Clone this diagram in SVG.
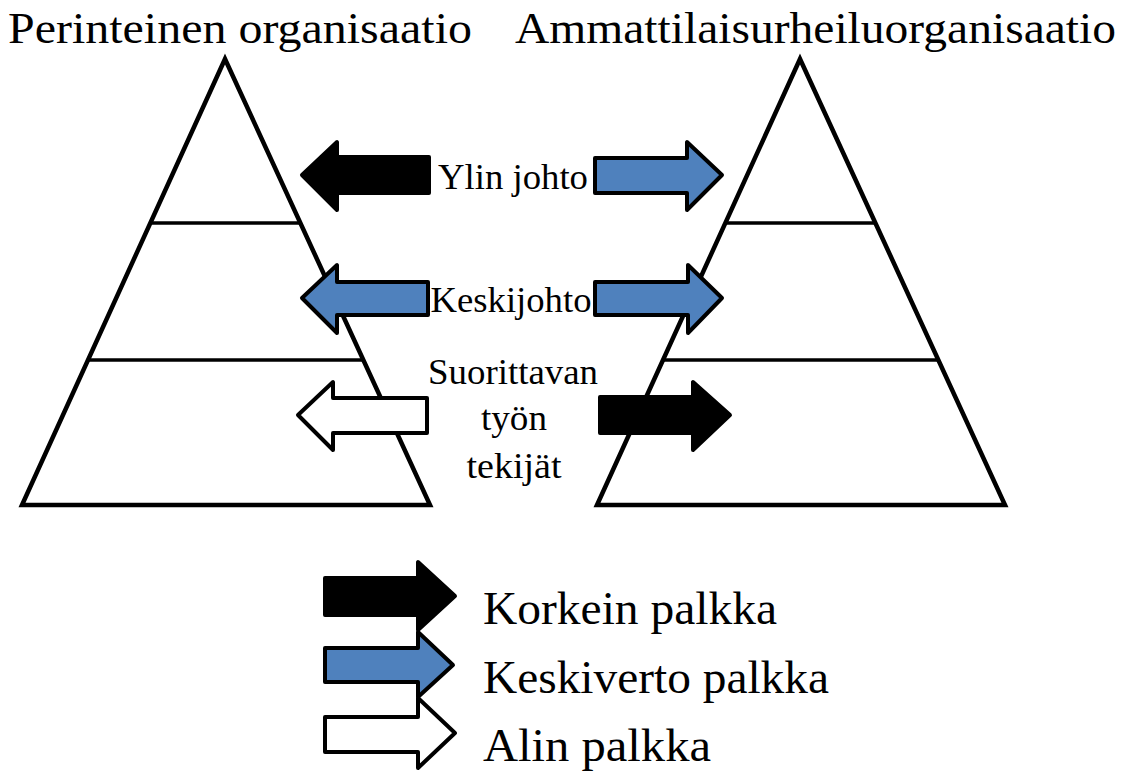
<svg xmlns="http://www.w3.org/2000/svg" width="1123" height="771" viewBox="0 0 1123 771">
<style>
text{font-family:"Liberation Serif","Times New Roman",serif;fill:#000}
.title{font-size:45px}
.lab{font-size:36px}
.leg{font-size:47px}
.tri{fill:#fff;stroke:#000;stroke-width:4.5;stroke-linejoin:miter}
.lvl{stroke:#000;stroke-width:3.5;fill:none}
.arr{stroke:#000;stroke-width:4;stroke-linejoin:round}
.k{fill:#000}
.b{fill:#4F81BD}
.w{fill:#fff}
</style>
<rect width="1123" height="771" fill="#fff"/>
<g id="title-left"><text class="title" x="8" y="43" textLength="464" lengthAdjust="spacingAndGlyphs">Perinteinen organisaatio</text></g>
<g id="title-right"><text class="title" x="515" y="43" textLength="601" lengthAdjust="spacingAndGlyphs">Ammattilaisurheiluorganisaatio</text></g>
<g id="pyramid-left">
<polygon class="tri" points="225,59 22,505 430,505"/>
<line class="lvl" x1="150" y1="223" x2="300" y2="223"/>
<line class="lvl" x1="88" y1="360" x2="363" y2="360"/>
</g>
<g id="pyramid-right">
<polygon class="tri" points="800,59 597,505 1005,505"/>
<line class="lvl" x1="725" y1="223" x2="875" y2="223"/>
<line class="lvl" x1="663" y1="360" x2="938" y2="360"/>
</g>
<g id="arrows">
<polygon class="arr k" points="302,175 337,142 337,157 429,157 429,193 337,193 337,210"/>
<polygon class="arr b" points="722,175 687,142 687,158 595,158 595,193 687,193 687,210"/>
<polygon class="arr b" points="302,298 337,265 337,282 428,282 428,315 337,315 337,333"/>
<polygon class="arr b" points="722,298 688,265 688,282 595,282 595,315 688,315 688,333"/>
<polygon class="arr w" points="298,415 333,382 333,398 427,398 427,433 333,433 333,450"/>
<polygon class="arr k" points="730,415 693,382 693,397 600,397 600,433 693,433 693,450"/>
</g>
<g id="labels">
<text class="lab" x="513" y="189" text-anchor="middle" textLength="150" lengthAdjust="spacingAndGlyphs">Ylin johto</text>
<text class="lab" x="511" y="312" text-anchor="middle" textLength="161" lengthAdjust="spacingAndGlyphs">Keskijohto</text>
<text class="lab" x="513" y="384" text-anchor="middle" textLength="170" lengthAdjust="spacingAndGlyphs">Suorittavan</text>
<text class="lab" x="514" y="430" text-anchor="middle" textLength="66" lengthAdjust="spacingAndGlyphs">työn</text>
<text class="lab" x="514" y="478" text-anchor="middle" textLength="95" lengthAdjust="spacingAndGlyphs">tekijät</text>
</g>
<g id="legend">
<polygon class="arr k" points="455,596 418,562 418,578 325,578 325,615 418,615 418,630"/>
<polygon class="arr b" points="453,665 418,632 418,648 325,648 325,682 418,682 418,697"/>
<polygon class="arr w" points="455,733 418,698 418,717 325,717 325,752 418,752 418,768"/>
<text class="leg" x="483" y="624" textLength="294" lengthAdjust="spacingAndGlyphs">Korkein palkka</text>
<text class="leg" x="483" y="693" textLength="346" lengthAdjust="spacingAndGlyphs">Keskiverto palkka</text>
<text class="leg" x="483" y="761" textLength="228" lengthAdjust="spacingAndGlyphs">Alin palkka</text>
</g>
</svg>
